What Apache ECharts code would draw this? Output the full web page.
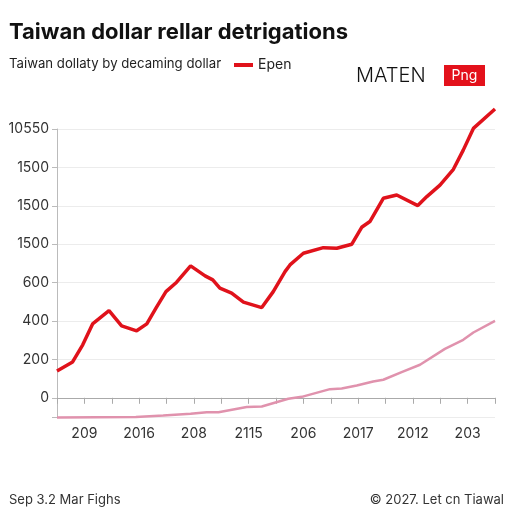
<!DOCTYPE html>
<html>
<head>
<meta charset="utf-8">
<script src="https://cdn.jsdelivr.net/npm/echarts@6/dist/echarts.min.js"></script>
<style>
  html, body { margin: 0; padding: 0; background: #fff; }
  #chart { width: 512px; height: 512px; }
</style>
</head>
<body>
<div id="chart"></div>
<script>
// tick labels as printed on the picture
const xTickLabels = ["", "209", "", "2016", "", "208", "", "2115", "", "206", "", "2017", "", "2012", "", "203", ""];
const yTickLabels = ["0", "200", "400", "600", "1500", "1500", "1500", "10550"];

// red series (x = position along the time axis, y = value)
const epenX = [0, 0.57, 0.94, 1.3, 1.9, 2.36, 2.91, 3.28, 3.62, 3.98, 4.37, 4.88, 5.41, 5.69, 5.95, 6.38, 6.81, 7.48, 7.9, 8.33, 8.51, 9.0, 9.73, 10.22, 10.77, 11.13, 11.43, 11.92, 12.41, 13.18, 13.51, 13.99, 14.48, 14.84, 15.21, 16.0];
const epenY = [140, 187, 276, 385, 454, 375, 349, 385, 468, 553, 602, 687, 635, 614, 571, 545, 498, 470, 553, 657, 692, 753, 782, 779, 800, 888, 918, 1039, 1056, 1001, 1048, 1108, 1190, 1290, 1403, 1504];

// pink series
const pinkX = [0, 2.88, 3.88, 4.88, 5.47, 5.9, 6.93, 7.48, 8.45, 8.94, 9.97, 10.4, 10.95, 11.55, 11.92, 12.59, 13.26, 14.17, 14.84, 15.21, 16.0];
const pinkY = [-102, -100, -92, -83, -75, -75, -48, -45, -5, 5, 45, 48, 64, 85, 94, 134, 172, 255, 302, 340, 401];

const zip = (xs, ys) => xs.map((x, i) => [x, ys[i]]);

const chart = echarts.init(document.getElementById("chart"));
const font = "Inter, 'Open Sans', sans-serif";

chart.setOption({
  animation: false,
  backgroundColor: "#fff",
  textStyle: { fontFamily: font },
  title: [
    {
      text: "Taiwan dollar rellar detrigations",
      left: 4, top: 16,
      textStyle: { fontSize: 22, fontWeight: "bold", color: "#111", fontFamily: font }
    },
    {
      text: "Taiwan dollaty by decaming dollar",
      left: 4, top: 53,
      textStyle: { fontSize: 13.2, fontWeight: "normal", color: "#222", fontFamily: font }
    },
    {
      text: "Sep 3.2 Mar Fighs",
      left: 4, top: 489,
      textStyle: { fontSize: 13, fontWeight: "normal", color: "#333", fontFamily: font }
    },
    {
      text: "© 2027. Let cn Tiawal",
      right: 3, top: 489,
      textStyle: { fontSize: 13, fontWeight: "normal", color: "#333", fontFamily: font }
    }
  ],
  legend: {
    data: ["Epen"],
    left: 229, top: 53,
    icon: "rect",
    itemWidth: 19, itemHeight: 4,
    itemGap: 6,
    textStyle: { fontSize: 14, color: "#222", fontFamily: font }
  },
  graphic: [
    {
      type: "text",
      left: 356, top: 66,
      style: { text: "MATEN", fontSize: 20, fontWeight: 300, fill: "#111", fontFamily: font }
    },
    {
      type: "group",
      left: 444, top: 65,
      children: [
        { type: "rect", shape: { x: 0, y: 0, width: 41, height: 21 }, style: { fill: "#e3111b" } },
        { type: "text", x: 20.5, y: 10.5, style: { text: "Png", fontSize: 14, fill: "#fff", align: "center", verticalAlign: "middle", fontFamily: font } }
      ]
    }
  ],
  grid: { left: 57, right: 17, top: 129, bottom: 95, containLabel: false },
  xAxis: {
    type: "value",
    min: 0, max: 16, interval: 1,
    axisLine: { show: true, lineStyle: { color: "#aaa", width: 1 } },
    axisTick: { show: true, length: 6, lineStyle: { color: "#aaa" } },
    splitLine: { show: false },
    axisLabel: {
      color: "#333", fontSize: 14, margin: 10, fontFamily: font,
      formatter: v => xTickLabels[Math.round(v)] || ""
    }
  },
  yAxis: {
    type: "value",
    min: -100, max: 1400, splitNumber: 7,
    axisLine: { show: true, lineStyle: { color: "#bbb", width: 1 } },
    axisTick: { show: true, length: 5, lineStyle: { color: "#bbb" } },
    splitLine: { show: true, lineStyle: { color: "#ececec", width: 1 } },
    axisLabel: {
      color: "#333", fontSize: 14, margin: 8, fontFamily: font,
      formatter: v => (v >= 0 && v % 200 === 0 ? yTickLabels[v / 200] : "")
    }
  },
  series: [
    {
      name: "pink",
      type: "line",
      data: zip(pinkX, pinkY),
      showSymbol: false,
      clip: false,
      z: 2,
      lineStyle: { color: "#e092ad", width: 2.5 }
    },
    {
      name: "Epen",
      type: "line",
      data: zip(epenX, epenY),
      showSymbol: false,
      clip: false,
      z: 3,
      itemStyle: { color: "#e0121b" },
      lineStyle: { color: "#e0121b", width: 3.5 }
    }
  ]
});
</script>
</body>
</html>
